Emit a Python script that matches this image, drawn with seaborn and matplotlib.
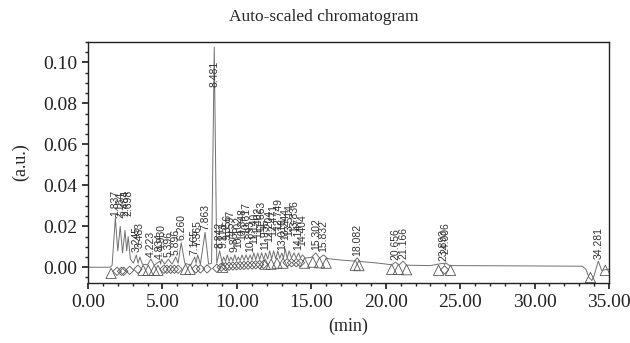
import matplotlib
matplotlib.use("Agg")
import matplotlib.pyplot as plt
import numpy as np
import pandas as pd
import seaborn as sns
from matplotlib.ticker import FormatStrFormatter, MultipleLocator

# trace: (time in min, signal in a.u.)
TRACE_TIME = [
    0.00, 1.50, 1.62, 1.837, 2.00, 2.164, 2.32, 2.484, 2.60, 2.698, 2.85, 3.05,
    3.245, 3.36, 3.483, 3.65, 4.00, 4.223, 4.45, 4.834, 4.88, 4.930, 5.15, 5.396,
    5.65, 5.896, 6.05, 6.260, 6.50, 6.90, 7.165, 7.26, 7.365, 7.55, 7.863, 8.10,
    8.30, 8.481, 8.65, 8.842, 9.00, 9.113, 9.24, 9.356, 9.48, 9.597, 9.73, 9.865,
    9.98, 10.102, 10.22, 10.348, 10.48, 10.617, 10.75, 10.893, 11.02, 11.140,
    11.27, 11.402, 11.53, 11.663, 11.80, 11.935, 12.07, 12.204, 12.34, 12.471,
    12.61, 12.749, 12.88, 13.018, 13.13, 13.244, 13.38, 13.514, 13.67, 13.836,
    13.99, 14.147, 14.27, 14.404, 14.60, 15.00, 15.302, 15.55, 15.832, 16.10,
    17.00, 17.90, 18.082, 18.30, 19.50, 20.40, 20.656, 20.90, 21.166, 21.40,
    23.00, 23.893, 23.95, 24.006, 24.30, 28.00, 33.20, 33.45, 33.65, 33.85,
    34.00, 34.281, 34.50, 35.00,
]
TRACE_SIGNAL = [
    0.0000, 0.0000, 0.0010, 0.0240, 0.0080, 0.0200, 0.0070, 0.0180, 0.0080, 0.0150, 0.0040, 0.0020,
    0.0060, 0.0020, 0.0050, 0.0015, 0.0012, 0.0040, 0.0010, 0.0030, 0.0015, 0.0040, 0.0015, 0.0040,
    0.0015, 0.0050, 0.0020, 0.0120, 0.0020, 0.0010, 0.0050, 0.0020, 0.0060, 0.0015, 0.0170, 0.0015,
    0.0020, 0.1075, 0.0020, 0.0080, 0.0025, 0.0050, 0.0028, 0.0060, 0.0030, 0.0050, 0.0031, 0.0060,
    0.0032, 0.0050, 0.0033, 0.0060, 0.0034, 0.0060, 0.0035, 0.0060, 0.0036, 0.0070,
    0.0037, 0.0070, 0.0038, 0.0070, 0.0039, 0.0070, 0.0040, 0.0080, 0.0041, 0.0080,
    0.0042, 0.0080, 0.0043, 0.0070, 0.0044, 0.0090, 0.0045, 0.0080, 0.0045, 0.0070,
    0.0045, 0.0070, 0.0045, 0.0060, 0.0045, 0.0048, 0.0070, 0.0045, 0.0060, 0.0042,
    0.0035, 0.0030, 0.0045, 0.0028, 0.0020, 0.0012, 0.0025, 0.0011, 0.0030, 0.0010,
    0.0008, 0.0020, 0.0012, 0.0022, 0.0008, 0.0007, 0.0005, -0.0010, -0.0050, -0.0065,
    -0.0040, 0.0030, -0.0015, -0.0010,
]

# labelled peaks: retention time and apex height
PEAK_TIME = [
    1.837, 2.164, 2.484, 2.698, 3.245, 3.483, 4.223, 4.834, 4.930, 5.396, 5.896,
    6.260, 7.165, 7.365, 7.863, 8.481, 8.842, 9.113, 9.356, 9.597, 9.865, 10.102,
    10.348, 10.617, 10.893, 11.140, 11.402, 11.663, 11.935, 12.204, 12.471, 12.749,
    13.018, 13.244, 13.514, 13.836, 14.147, 14.404, 15.302, 15.832, 18.082, 20.656,
    21.166, 23.893, 24.006, 34.281,
]
PEAK_HEIGHT = [
    0.0240, 0.0200, 0.0180, 0.0150, 0.0060, 0.0050, 0.0040, 0.0030, 0.0040, 0.0040, 0.0050,
    0.0120, 0.0050, 0.0060, 0.0170, 0.1075, 0.0080, 0.0050, 0.0060, 0.0050, 0.0060, 0.0050,
    0.0060, 0.0060, 0.0060, 0.0070, 0.0070, 0.0070, 0.0070, 0.0080, 0.0080, 0.0080,
    0.0070, 0.0090, 0.0080, 0.0070, 0.0070, 0.0060, 0.0070, 0.0060, 0.0045, 0.0025,
    0.0030, 0.0020, 0.0022, 0.0030,
]

# baseline markers: triangles (start/end) and diamonds (drop lines)
TRIANGLE_TIME = [
    1.55, 3.70, 4.05, 4.45, 4.70, 6.55, 6.85, 9.05, 11.90, 12.30, 12.70, 13.10,
    14.55, 15.10, 15.55, 16.00, 17.95, 18.20, 20.40, 20.85, 21.40, 23.55, 24.35,
    33.75, 34.75,
]
TRIANGLE_SIGNAL = [
    -0.0030, -0.0015, -0.0015, -0.0015, -0.0015, -0.0010, -0.0010, 0.0000, 0.0015, 0.0015, 0.0020, 0.0020,
    0.0020, 0.0025, 0.0022, 0.0020, 0.0010, 0.0008, -0.0010, -0.0010, -0.0012, -0.0015, -0.0015,
    -0.0050, -0.0015,
]
DIAMOND_TIME = [
    1.95, 2.25, 2.40, 2.80, 3.35, 5.10, 5.30, 5.55, 5.80, 6.05, 7.25, 7.55, 8.00,
    8.65, 8.95, 9.24, 9.48, 9.73, 9.98, 10.22, 10.48, 10.75, 11.02, 11.27, 11.53,
    11.80, 13.38, 13.67, 13.99, 14.27, 23.95,
]
DIAMOND_SIGNAL = [
    -0.0020, -0.0020, -0.0020, -0.0015, -0.0010, -0.0010, -0.0010, -0.0010, -0.0010, -0.0010, -0.0008, -0.0008, -0.0008,
    -0.0005, 0.0000, 0.0003, 0.0005, 0.0006, 0.0007, 0.0008, 0.0009, 0.0010, 0.0011, 0.0012, 0.0013,
    0.0014, 0.0022, 0.0022, 0.0022, 0.0022, -0.0013,
]

X_TICKS = [0, 5, 10, 15, 20, 25, 30, 35]
Y_TICKS = [0.00, 0.02, 0.04, 0.06, 0.08, 0.10]

sns.set_theme(style="ticks")
plt.rcParams["font.family"] = ["Liberation Serif", "DejaVu Serif"]
plt.rcParams["xtick.major.size"] = 4
plt.rcParams["ytick.major.size"] = 4
plt.rcParams["xtick.minor.size"] = 2.5
plt.rcParams["ytick.minor.size"] = 2.5
plt.rcParams["xtick.color"] = "#222222"
plt.rcParams["ytick.color"] = "#222222"

trace = pd.DataFrame({"time": TRACE_TIME, "signal": TRACE_SIGNAL})
tri = pd.DataFrame({"time": TRIANGLE_TIME, "signal": TRIANGLE_SIGNAL})
dia = pd.DataFrame({"time": DIAMOND_TIME, "signal": DIAMOND_SIGNAL})

fig = plt.figure(figsize=(6.3, 3.43), dpi=100)
ax = fig.add_axes([0.1397, 0.1749, 0.8270, 0.7027])

sns.lineplot(data=trace, x="time", y="signal", sort=False, color="#707070",
             linewidth=0.7, ax=ax)
sns.scatterplot(data=tri, x="time", y="signal", marker="^", s=55,
                facecolor="none", edgecolor="#555555", linewidth=0.6, ax=ax)
sns.scatterplot(data=dia, x="time", y="signal", marker="D", s=18,
                facecolor="none", edgecolor="#555555", linewidth=0.6, ax=ax)

# rotated retention-time labels, nudged up when peaks crowd together
prev_t, level = -10.0, 0
for t, h in zip(PEAK_TIME, PEAK_HEIGHT):
    level = (level + 1) % 4 if t - prev_t < 0.35 else 0
    prev_t = t
    y = min(h + 0.0012 + level * 0.003, 0.088)
    ax.text(t, y, f"{t:.3f}", rotation=90, ha="center", va="bottom",
            fontsize=7.5, color="#333333", family=["Liberation Sans", "DejaVu Sans"])

ax.set_xlim(0, 35)
ax.set_ylim(-0.0077, 0.11)
ax.set_xticks(X_TICKS)
ax.set_yticks(Y_TICKS)
ax.xaxis.set_minor_locator(MultipleLocator(1))
ax.yaxis.set_minor_locator(MultipleLocator(0.005))
ax.xaxis.set_major_formatter(FormatStrFormatter("%.2f"))
ax.yaxis.set_major_formatter(FormatStrFormatter("%.2f"))
ax.tick_params(labelsize=14, pad=4)
for side in ax.spines.values():
    side.set_linewidth(1.0)
    side.set_color("#222222")

fig.suptitle("Auto-scaled chromatogram", x=0.514, y=0.975, va="top", fontsize=12.5)
ax.set_xlabel("(min)", fontsize=13, labelpad=5)
ax.set_ylabel("(a.u.)", fontsize=13, labelpad=10)

fig.savefig("out.png", dpi=100)
